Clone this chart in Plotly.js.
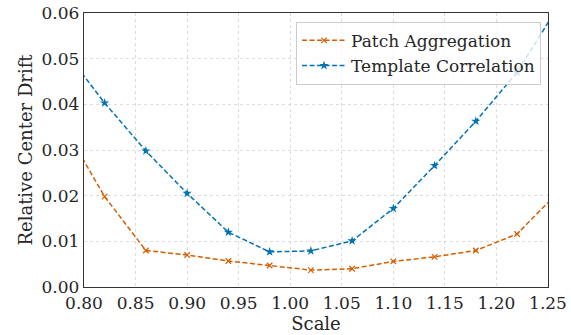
<!DOCTYPE html>
<html><head><meta charset="utf-8">
<script src="https://cdn.plot.ly/plotly-3.0.1.min.js"></script>
<style>html,body{margin:0;padding:0;background:#fff}#chart{width:571px;height:335px}</style>
</head><body><div id="chart"></div>
<script>
const scales = [0.78, 0.82, 0.86, 0.90, 0.94, 0.98, 1.02, 1.06, 1.10, 1.14, 1.18, 1.22, 1.26];
const patchAggregation = [0.0354, 0.0198, 0.0080, 0.0070, 0.0057, 0.0047, 0.0037, 0.0040, 0.0056, 0.0066, 0.0080, 0.0116, 0.0208];
const templateCorrelation = [0.0521, 0.0403, 0.0298, 0.0205, 0.0120, 0.0077, 0.0079, 0.0101, 0.0172, 0.0266, 0.0363, 0.0470, 0.0615];
const xTicks = [0.80, 0.85, 0.90, 0.95, 1.00, 1.05, 1.10, 1.15, 1.20, 1.25];
const yTicks = [0.00, 0.01, 0.02, 0.03, 0.04, 0.05, 0.06];

const FAM = 'DejaVu Serif';
const COL = '#262626';
function f(size) { return {family: FAM, size: size, color: COL}; }
const traces = [
  {x: scales, y: patchAggregation, name: 'Patch Aggregation', mode: 'lines+markers',
   line: {color: '#D55E00', dash: '5px,2.5px', width: 1.5},
   marker: {symbol: 'x-thin', size: 5.5, line: {color: '#D55E00', width: 1.2}, color: '#D55E00'}},
  {x: scales, y: templateCorrelation, name: 'Template Correlation', mode: 'lines+markers',
   line: {color: '#0173B2', dash: '5px,2.5px', width: 1.5},
   marker: {symbol: 'star', size: 7, color: '#0173B2'}}
];
const layout = {
  width: 571, height: 335,
  margin: {l: 84, r: 23, t: 13, b: 48},
  paper_bgcolor: '#fff', plot_bgcolor: '#fff',
  showlegend: true,
  legend: {x: 0.457, y: 0.968, xanchor: 'left', yanchor: 'top',
    bgcolor: 'rgba(255,255,255,0.8)', bordercolor: '#cccccc', borderwidth: 1,
    font: f(17), tracegroupgap: 0, itemwidth: 44},
  xaxis: {range: [0.80, 1.25], tickvals: xTicks, ticktext: xTicks.map(v => v.toFixed(2)),
    showgrid: true, gridcolor: '#d4d4d4', griddash: 'dot', gridwidth: 0.8,
    showline: true, linecolor: '#333', linewidth: 1.25, mirror: true,
    ticks: '', zeroline: false,
    title: {text: 'Scale', font: f(18), standoff: 0},
    tickfont: f(17)},
  yaxis: {range: [0, 0.06], tickvals: yTicks, ticktext: yTicks.map(v => v.toFixed(2)),
    showgrid: true, gridcolor: '#d4d4d4', griddash: 'dot', gridwidth: 0.8,
    showline: true, linecolor: '#333', linewidth: 1.25, mirror: true,
    ticks: '', zeroline: false,
    title: {text: 'Relative Center Drift', font: f(18), standoff: 4},
    tickfont: f(17)}
};
Plotly.newPlot('chart', traces, layout, {displayModeBar: false, staticPlot: true});
</script></body></html>
